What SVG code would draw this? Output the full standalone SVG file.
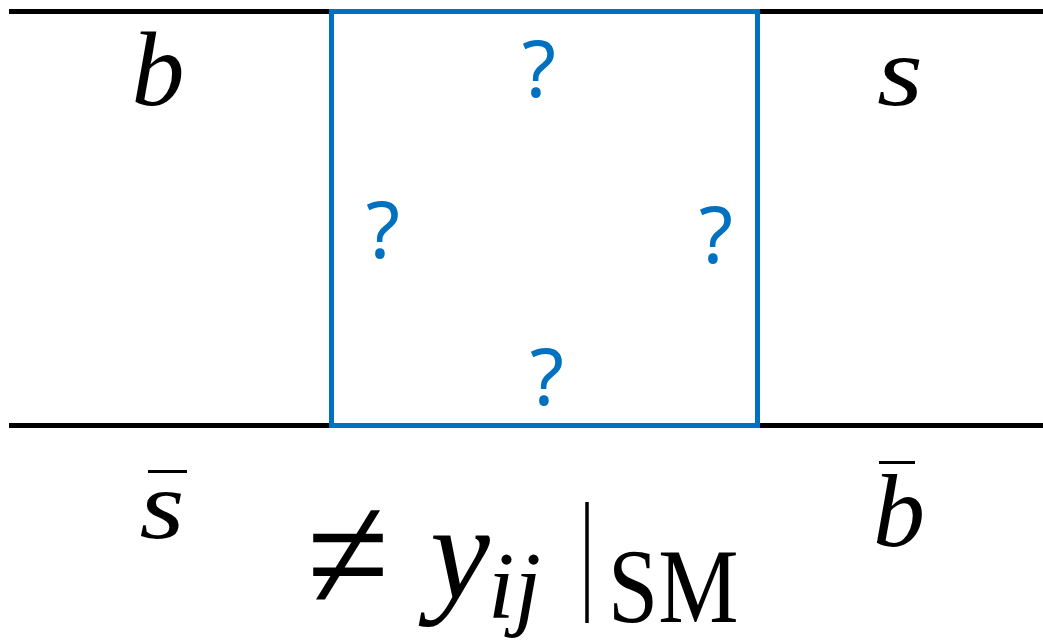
<svg xmlns="http://www.w3.org/2000/svg" width="1043" height="640" viewBox="0 0 1043 640">
<style>
.line{stroke:#000;stroke-width:5;fill:none}
.box{stroke:#0070C0;stroke-width:5;fill:none}
.q{fill:#0070C0;font-family:"Noto Sans","Open Sans",sans-serif;font-size:78px;text-anchor:middle}
.m{fill:#000;font-family:"Liberation Serif","DejaVu Serif",serif;font-style:italic}
.r{fill:#000;font-family:"Liberation Serif","DejaVu Serif",serif}
</style>
<rect width="1043" height="640" fill="#fff"/>
<g id="connectors">
<line class="line" x1="9" y1="11.5" x2="1043" y2="11.5"/>
<line class="line" x1="9" y1="425.5" x2="1043" y2="425.5"/>
</g>
<g id="box">
<rect class="box" x="331.5" y="11.5" width="426" height="414"/>
<text class="q" x="539" y="97">?</text>
<text class="q" x="383" y="258">?</text>
<text class="q" x="716" y="263">?</text>
<text class="q" x="547" y="405">?</text>
</g>
<g id="label-b"><text class="m" x="158" y="105" font-size="106" text-anchor="middle">b</text></g>
<g id="label-s"><text class="m" font-size="100" text-anchor="middle" transform="translate(900,105) scale(1.18,1)">s</text></g>
<g id="label-sbar">
<text class="m" font-size="98" text-anchor="middle" transform="translate(162,538) scale(1.18,1)">s</text>
<line x1="148" y1="471.5" x2="187" y2="471.5" stroke="#000" stroke-width="3"/>
</g>
<g id="label-bbar">
<text class="m" x="899" y="546" font-size="104" text-anchor="middle">b</text>
<line x1="879" y1="462.5" x2="915" y2="462.5" stroke="#000" stroke-width="3"/>
</g>
<g id="formula">
<text class="r" font-size="130" text-anchor="middle" y="38" transform="translate(348,562) scale(1.15,1.3)">≠</text>
<text class="m" x="430" y="598" font-size="135">y</text>
<text class="m" x="488" y="618" font-size="95">ij</text>
<line x1="587" y1="502" x2="587" y2="623" stroke="#000" stroke-width="3.5"/>
<text class="r" font-size="105" transform="translate(608,622) scale(0.86,1)">SM</text>
</g>
</svg>
